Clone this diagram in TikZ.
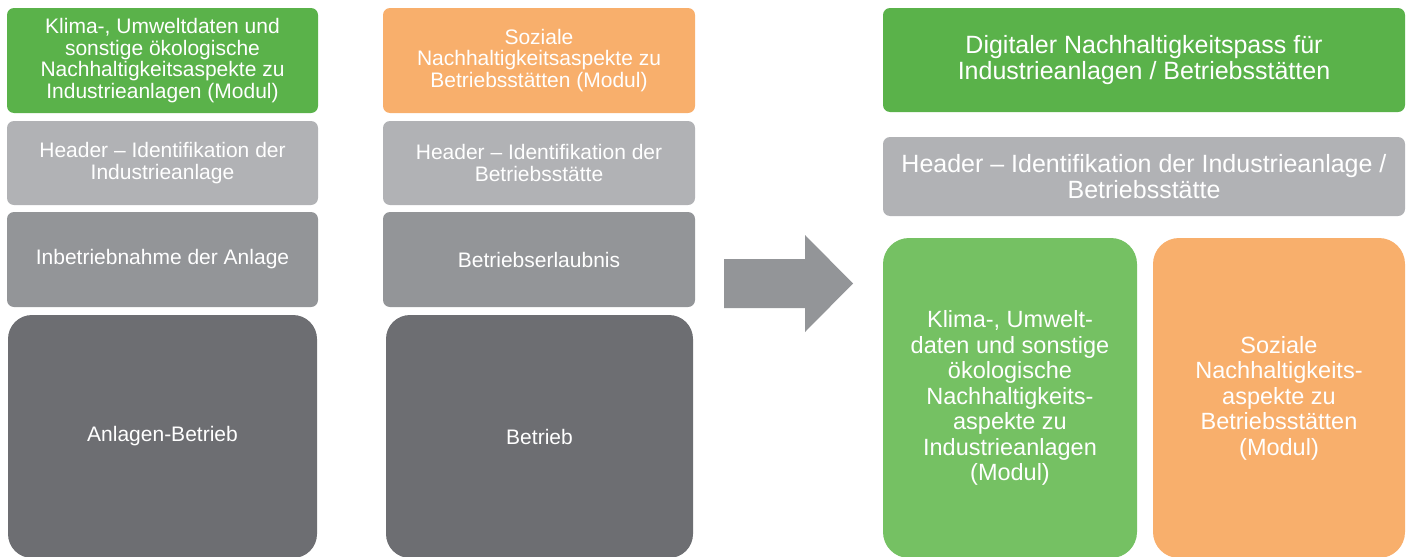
\documentclass[tikz,border=0pt]{standalone}
\usepackage{fontspec}
\setmainfont{Liberation Sans}
\definecolor{passgreen}{HTML}{5AB24A}
\definecolor{modgreen}{HTML}{75C163}
\definecolor{modorange}{HTML}{F8AF6C}
\definecolor{headgray}{HTML}{B1B2B5}
\definecolor{midgray}{HTML}{939598}
\definecolor{darkgray}{HTML}{6D6E72}
\tikzset{
  tile/.style={rounded corners=7pt, inner sep=0pt, align=center, text=white,
    font=\fontsize{21}{21.5}\selectfont},
  bigtile/.style={tile, rounded corners=24pt},
  widetile/.style={tile, font=\fontsize{25}{26}\selectfont},
  modtile/.style={tile, rounded corners=26pt, font=\fontsize{23.5}{25.5}\selectfont},
}
\begin{document}
\begin{tikzpicture}[x=1pt,y=-1pt]
\useasboundingbox (0,0) rectangle (1414,557);

% column 1: industrial plant
\node[tile, fill=passgreen, minimum width=311pt, minimum height=105pt] (ecoA) at (162.5,60.5)
  {Klima-, Umweltdaten und\\sonstige ökologische\\Nachhaltigkeitsaspekte zu\\Industrieanlagen (Modul)};
\node[tile, fill=headgray, minimum width=311pt, minimum height=84pt] (headA) at (162.5,163)
  {Header – Identifikation der\\Industrieanlage};
\node[tile, fill=midgray, minimum width=311pt, minimum height=95pt] (startA) at (162.5,259.5)
  {Inbetriebnahme der Anlage};
\node[bigtile, fill=darkgray, minimum width=309pt, minimum height=243pt] (runA) at (162.5,436.5)
  {Anlagen-Betrieb};

% column 2: operating site
\node[tile, fill=modorange, minimum width=312pt, minimum height=105pt] (socB) at (539,60.5)
  {Soziale\\Nachhaltigkeitsaspekte zu\\Betriebsstätten (Modul)};
\node[tile, fill=headgray, minimum width=312pt, minimum height=84pt] (headB) at (539,163)
  {Header – Identifikation der\\Betriebsstätte};
\node[tile, fill=midgray, minimum width=312pt, minimum height=95pt] (permitB) at (539,259.5)
  {Betriebserlaubnis};
\node[bigtile, fill=darkgray, minimum width=307pt, minimum height=243pt] (runB) at (539.5,436.5)
  {Betrieb};

% block arrow
\fill[midgray] (724,259) -- (805,259) -- (805,235) -- (853,283.5) -- (805,332)
  -- (805,308) -- (724,308) -- cycle;

% combined passport
\node[widetile, fill=passgreen, minimum width=522pt, minimum height=104pt] (pass) at (1144,60)
  {Digitaler Nachhaltigkeitspass für\\Industrieanlagen / Betriebsstätten};
\node[widetile, fill=headgray, minimum width=522pt, minimum height=79pt] (headC) at (1144,176.5)
  {Header – Identifikation der Industrieanlage /\\Betriebsstätte};
\node[modtile, fill=modgreen, minimum width=254pt, minimum height=320pt] (ecoC) at (1010,398)
  {Klima-, Umwelt-\\daten und sonstige\\ökologische\\Nachhaltigkeits-\\aspekte zu\\Industrieanlagen\\(Modul)};
\node[modtile, fill=modorange, minimum width=252pt, minimum height=320pt] (socC) at (1279,398)
  {Soziale\\Nachhaltigkeits-\\aspekte zu\\Betriebsstätten\\(Modul)};
\end{tikzpicture}
\end{document}
